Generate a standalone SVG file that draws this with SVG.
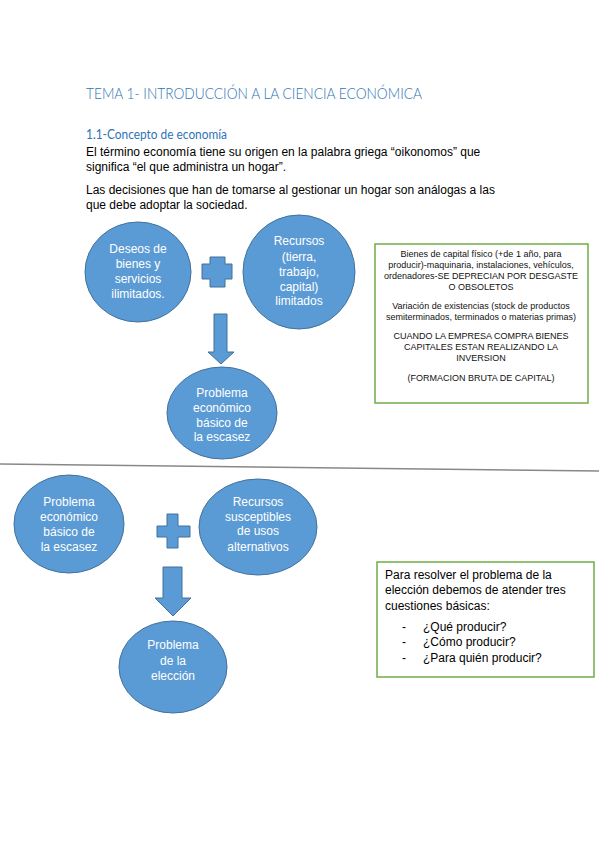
<svg xmlns="http://www.w3.org/2000/svg" width="599" height="848" viewBox="0 0 599 848">
<style>
.h{font-family:Lato,"Open Sans","Liberation Sans",sans-serif;fill:#2E74B5;font-weight:300}
.h2{font-family:Lato,"Open Sans","Liberation Sans",sans-serif;fill:#2E74B5;font-weight:400}
.b{font-family:"Liberation Sans",Arial,sans-serif;font-size:12px;fill:#000}
.c{fill:#5B9BD5;stroke:#41719C;stroke-width:1}
.ct{font-family:"Liberation Sans",Arial,sans-serif;font-size:12px;fill:#fff;text-anchor:middle}
.sh{fill:#5B9BD5;stroke:#41719C;stroke-width:1}
.box{fill:#fff;stroke:#70AD47;stroke-width:1.5}
.bt{font-family:"Liberation Sans",Arial,sans-serif;font-size:9px;fill:#111;text-anchor:middle}
.bt2{font-family:"Liberation Sans",Arial,sans-serif;font-size:12px;fill:#000}
</style>
<rect width="599" height="848" fill="#fff"/>
<g id="header">
<text class="h" x="86" y="99" font-size="15" textLength="336" lengthAdjust="spacingAndGlyphs">TEMA 1- INTRODUCCIÓN A LA CIENCIA ECONÓMICA</text>
<text class="h2" x="86" y="139" font-size="12.5" textLength="141" lengthAdjust="spacingAndGlyphs">1.1-Concepto de economía</text>
<text class="b" x="86" y="156">El término economía tiene su origen en la palabra griega “oikonomos” que</text>
<text class="b" x="86" y="171">significa “el que administra un hogar”.</text>
<text class="b" x="86" y="194">Las decisiones que han de tomarse al gestionar un hogar son análogas a las</text>
<text class="b" x="86" y="209">que debe adoptar la sociedad.</text>
</g>
<g id="connectors">
<path class="sh" d="M210,257 H225 V264 H232 V279 H225 V287 H210 V279 H202 V264 H210 Z"/>
<path class="sh" d="M214,314 H227 V352 H234 L221,364 L208,352 H214 Z"/>
<path class="sh" d="M167,514 H178 V526 H190 V537 H178 V548 H167 V537 H157 V526 H167 Z"/>
<path class="sh" d="M163,567 H182 V598 H191 L173,616 L155,598 H163 Z"/>
</g>
<g id="n1"><ellipse class="c" cx="138" cy="272" rx="53" ry="50"/>
<text class="ct" x="138" y="253">Deseos de</text><text class="ct" x="138" y="268">bienes y</text><text class="ct" x="138" y="283">servicios</text><text class="ct" x="138" y="298">ilimitados.</text></g>
<g id="n2"><ellipse class="c" cx="299" cy="272" rx="56" ry="57"/>
<text class="ct" x="299" y="245">Recursos</text><text class="ct" x="299" y="261">(tierra,</text><text class="ct" x="299" y="276">trabajo,</text><text class="ct" x="299" y="291">capital)</text><text class="ct" x="299" y="305">limitados</text></g>
<g id="n3"><ellipse class="c" cx="222" cy="413" rx="55" ry="46"/>
<text class="ct" x="222" y="397">Problema</text><text class="ct" x="222" y="412">económico</text><text class="ct" x="222" y="427">básico de</text><text class="ct" x="222" y="441">la escasez</text></g>
<g id="box1"><rect class="box" x="375" y="244" width="213" height="159"/>
<text class="bt" x="481" y="257">Bienes de capital físico (+de 1 año, para</text>
<text class="bt" x="481" y="268">producir)-maquinaria, instalaciones, vehículos,</text>
<text class="bt" x="481" y="279">ordenadores-SE DEPRECIAN POR DESGASTE</text>
<text class="bt" x="481" y="290">O OBSOLETOS</text>
<text class="bt" x="481" y="309">Variación de existencias (stock de productos</text>
<text class="bt" x="481" y="320">semiterminados, terminados o materias primas)</text>
<text class="bt" x="481" y="339">CUANDO LA EMPRESA COMPRA BIENES</text>
<text class="bt" x="481" y="350">CAPITALES ESTAN REALIZANDO LA</text>
<text class="bt" x="481" y="361">INVERSION</text>
<text class="bt" x="481" y="381">(FORMACION BRUTA DE CAPITAL)</text></g>
<line id="separator" x1="0" y1="464" x2="599" y2="471" stroke="#888" stroke-width="1.5"/>
<g id="n4"><ellipse class="c" cx="69" cy="524" rx="55" ry="49"/>
<text class="ct" x="69" y="506">Problema</text><text class="ct" x="69" y="521">económico</text><text class="ct" x="69" y="536">básico de</text><text class="ct" x="69" y="551">la escasez</text></g>
<g id="n5"><ellipse class="c" cx="258" cy="527" rx="59" ry="48"/>
<text class="ct" x="258" y="506">Recursos</text><text class="ct" x="258" y="521">susceptibles</text><text class="ct" x="258" y="535">de usos</text><text class="ct" x="258" y="551">alternativos</text></g>
<g id="n6"><ellipse class="c" cx="173" cy="667" rx="54" ry="46"/>
<text class="ct" x="173" y="649">Problema</text><text class="ct" x="173" y="665">de la</text><text class="ct" x="173" y="680">elección</text></g>
<g id="box2"><rect class="box" x="377" y="562" width="217" height="115"/>
<text class="bt2" x="385" y="579">Para resolver el problema de la</text>
<text class="bt2" x="385" y="594">elección debemos de atender tres</text>
<text class="bt2" x="385" y="610">cuestiones básicas:</text>
<text class="bt2" x="402" y="631">-</text><text class="bt2" x="423" y="631">¿Qué producir?</text>
<text class="bt2" x="402" y="646">-</text><text class="bt2" x="423" y="646">¿Cómo producir?</text>
<text class="bt2" x="402" y="662">-</text><text class="bt2" x="423" y="662">¿Para quién producir?</text></g>
</svg>
